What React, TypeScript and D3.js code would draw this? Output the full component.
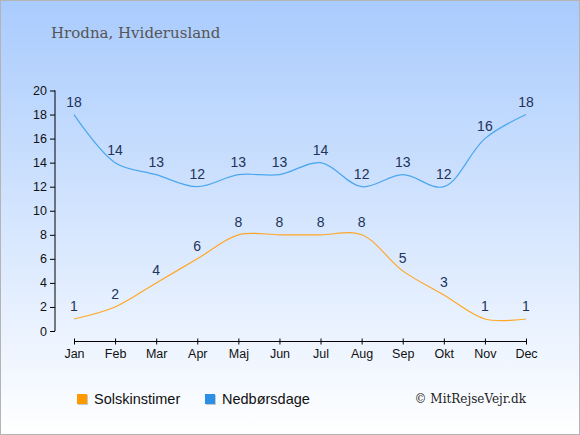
import { useEffect, useRef } from 'react'
import * as d3 from 'd3'

const months = ['Jan', 'Feb', 'Mar', 'Apr', 'Maj', 'Jun', 'Jul', 'Aug', 'Sep', 'Okt', 'Nov', 'Dec']
const sunHours = [1, 2, 4, 6, 8, 8, 8, 8, 5, 3, 1, 1]
const rainDays = [18, 14, 13, 12, 13, 13, 14, 12, 13, 12, 16, 18]
const yTicks = [0, 2, 4, 6, 8, 10, 12, 14, 16, 18, 20]

const W = 580, H = 435
const SUN = '#ffa726', RAIN = '#4ba6f0'
const LABEL = '#22335a'

export default function App() {
  const ref = useRef<SVGSVGElement>(null)

  useEffect(() => {
    const svg = d3.select(ref.current!)
    svg.selectAll('*').remove()

    const grad = svg.append('defs').append('linearGradient')
      .attr('id', 'bg').attr('x1', 0).attr('y1', 0).attr('x2', 0).attr('y2', 1)
    grad.append('stop').attr('offset', '0%').attr('stop-color', '#a9cbfd')
    grad.append('stop').attr('offset', '100%').attr('stop-color', '#ffffff')

    svg.append('rect').attr('x', 0.5).attr('y', 0.5).attr('width', W - 1).attr('height', H - 1)
      .attr('fill', 'url(#bg)').attr('stroke', '#b4b4b4')

    // title
    svg.append('text').attr('x', 51).attr('y', 38)
      .attr('font-family', '"DejaVu Serif", serif').attr('font-size', 15).attr('fill', '#555')
      .text('Hrodna, Hviderusland')

    const x = d3.scalePoint<string>().domain(months).range([74, 526])
    const y = d3.scaleLinear().domain([0, 20]).range([331, 90.5])

    // y axis
    const yAx = svg.append('g').attr('transform', 'translate(55,0)')
      .call(d3.axisLeft(y).tickValues(yTicks).tickSize(5).tickPadding(3).tickFormat(d3.format('d')))
    yAx.selectAll('text').attr('font-family', '"Liberation Sans", Arial, sans-serif').attr('font-size', 12.5).attr('fill', '#111')
    yAx.select('.domain').attr('d', `M-0.5,${y(20)}H0V${y(0)}H-0.5`).attr('stroke', '#000')

    // x axis
    const xAx = svg.append('g').attr('transform', 'translate(0,341.5)')
      .call(d3.axisBottom(x).tickSize(3).tickPadding(5))
    xAx.select('.domain').attr('d', `M${x('Jan')},0H${x('Dec')}`).attr('stroke', '#000')
    xAx.selectAll('.tick line').attr('y1', -3).attr('y2', 3)
    xAx.selectAll('text').attr('font-family', '"Liberation Sans", Arial, sans-serif').attr('font-size', 12.5).attr('fill', '#111')

    const line = d3.line<number>()
      .x((_, i) => x(months[i])!)
      .y(v => y(v))
      .curve(d3.curveCatmullRom)

    const series = [
      { vals: rainDays, color: RAIN },
      { vals: sunHours, color: SUN },
    ]
    series.forEach(s => {
      svg.append('path').datum(s.vals).attr('fill', 'none')
        .attr('stroke', s.color).attr('stroke-width', 1.2).attr('d', line)
      svg.append('g').selectAll('text').data(s.vals).join('text')
        .attr('x', (_, i) => x(months[i])!)
        .attr('y', v => y(v) - 8)
        .attr('text-anchor', 'middle')
        .attr('font-family', '"Liberation Sans", Arial, sans-serif').attr('font-size', 14)
        .attr('fill', LABEL)
        .text(v => v)
    })

    // legend
    const legend = [
      { name: 'Solskinstimer', color: '#ff9900', x: 77 },
      { name: 'Nedbørsdage', color: '#2b8fe6', x: 205 },
    ]
    legend.forEach(l => {
      svg.append('rect').attr('x', l.x + 1).attr('y', 395).attr('width', 10).attr('height', 10).attr('fill', '#c8c8c8')
      svg.append('rect').attr('x', l.x).attr('y', 394).attr('width', 10).attr('height', 10).attr('fill', l.color)
      svg.append('text').attr('x', l.x + 17).attr('y', 403.5)
        .attr('font-family', '"Liberation Sans", Arial, sans-serif').attr('font-size', 14.5).attr('fill', '#111')
        .text(l.name)
    })

    svg.append('text').attr('x', 526).attr('y', 403).attr('text-anchor', 'end')
      .attr('font-family', '"DejaVu Serif", serif').attr('font-size', 12).attr('fill', '#222')
      .text('© MitRejseVejr.dk')
  }, [])

  return <svg ref={ref} width={W} height={H} style={{ position: 'absolute', left: 0, top: 0 }} />
}
